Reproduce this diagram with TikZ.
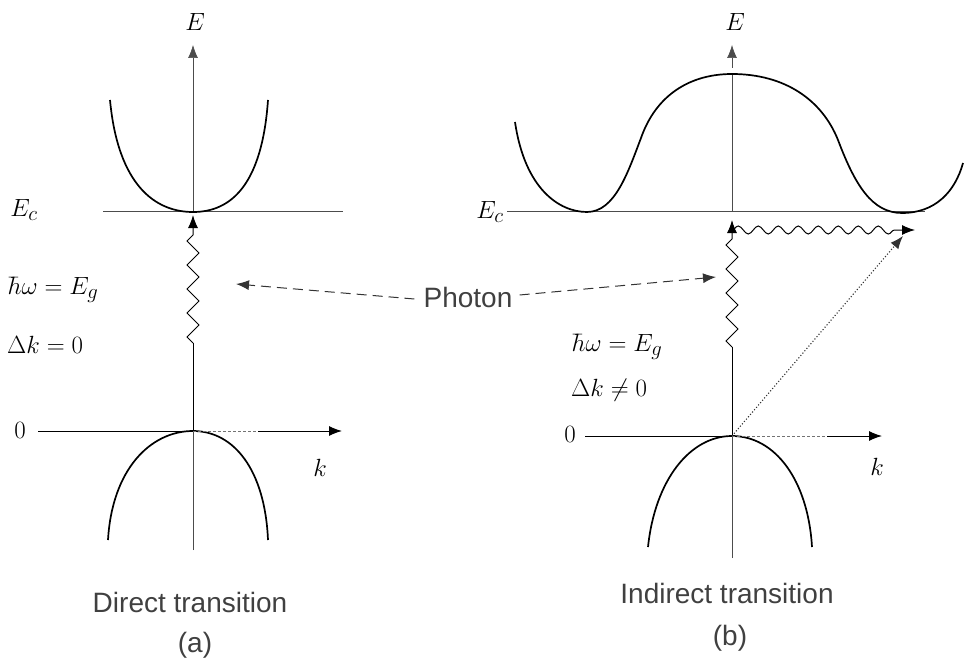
\documentclass[tikz,border=0pt]{standalone}
\usepackage{fontspec}
\setsansfont{Liberation Sans}
\usetikzlibrary{arrows.meta,decorations.pathmorphing}
\tikzset{
  band/.style={line width=1.7pt, black},
  axisline/.style={line width=0.7pt, black!70},
  faint/.style={line width=0.7pt, black!55, dash pattern=on 3pt off 2pt},
  tip/.style={-{Latex[length=13pt,width=10pt]}},
  zig/.style={line width=1pt, decorate, decoration={zigzag, amplitude=6pt, segment length=24pt, post length=16pt}},
  wave/.style={line width=1pt, decorate, decoration={snake, amplitude=4pt, segment length=20pt, post length=12pt}},
  photonarrow/.style={line width=1pt, black!80, dash pattern=on 10pt off 6pt, -{Latex[length=13pt,width=10pt]}},
  mlabel/.style={font=\fontsize{28}{32}\selectfont, inner sep=1pt},
  tlabel/.style={font=\sffamily\fontsize{28}{32}\selectfont, text=black!75, inner sep=1pt},
}
\begin{document}
\begin{tikzpicture}[x=1pt,y=-1pt]
\useasboundingbox (0,0) rectangle (965,660);

% ---------------- (a) direct ----------------
\coordinate (aTop) at (193,45);
\coordinate (aBot) at (193,550);
\coordinate (aCv) at (193,212);
\coordinate (aVv) at (193,431);
\coordinate (aZ) at (193,343);
\coordinate (aEcL) at (103,212);
\coordinate (aEcR) at (343,212);
\coordinate (aZeroL) at (38,431);
\coordinate (aKs) at (258,431);
\coordinate (aKe) at (342,431);

\draw[axisline] (aBot) -- (aVv);
\draw[axisline] (aCv) -- (193,60);
\draw[axisline,tip] (193,70) -- (aTop);
\draw[line width=1pt, black!70] (aEcL) -- (aEcR);
% conduction band
\draw[band] (110,100) .. controls (118,185) and (155,212) .. (aCv)
            .. controls (231,212) and (262,185) .. (268,100);
% valence band
\draw[band] (108,540) .. controls (112,470) and (150,431) .. (aVv)
            .. controls (234,431) and (265,470) .. (268,540);
% 0 line and k axis
\draw[line width=1pt] (aZeroL) -- (aVv);
\draw[faint] (aVv) -- (aKs);
\draw[line width=1pt, tip] (aKs) -- (aKe);
% transition
\draw[line width=1pt] (aVv) -- (aZ);
\draw[zig, tip] (aZ) -- (193,215);

\node[mlabel] (aE) at (195,22) {$E$};
\node[mlabel] (aEc) at (24,210) {$E_c$};
\node[mlabel, anchor=west] (aHw) at (6,290) {$\hbar\omega = E_g$};
\node[mlabel, anchor=west] (aDk) at (6,345) {$\Delta k = 0$};
\node[mlabel] (aZero) at (20,430) {$0$};
\node[mlabel] (ak) at (320,468) {$k$};
\node[tlabel] (aTitle) at (190,602) {Direct transition};
\node[tlabel] (aSub) at (195,645) {(a)};

% ---------------- photon ----------------
\node[tlabel] (photon) at (468,297) {Photon};
\coordinate (phA) at (236,284);
\coordinate (phB) at (716,277);
\draw[photonarrow] (photon.west) ++(-8,2) -- (phA);
\draw[photonarrow] (photon.east) ++(6,-2) -- (phB);

% ---------------- (b) indirect ----------------
\coordinate (bTop) at (732,45);
\coordinate (bBot) at (732,558);
\coordinate (bMax) at (732,74);
\coordinate (bVv) at (732,436);
\coordinate (bZ) at (732,347);
\coordinate (bEcL) at (507,212);
\coordinate (bEcR) at (925,212);
\coordinate (bZeroL) at (585,436);
\coordinate (bKs) at (827,436);
\coordinate (bKe) at (882,436);
\coordinate (bMin) at (902,213);
\coordinate (bW) at (732,230);
\coordinate (bWe) at (915,230);
\coordinate (bDe) at (903,236);

\draw[axisline] (bBot) -- (bVv);
\draw[axisline] (732,212) -- (bMax);
\draw[axisline,tip] (732,68) -- (bTop);
\draw[line width=1pt, black!70] (bEcL) -- (bEcR);
% conduction band
\draw[band] (515,122) .. controls (525,190) and (560,212) .. (587,212)
            .. controls (615,212) and (628,172) .. (641,138)
            .. controls (656,95) and (690,74) .. (bMax)
            .. controls (785,74) and (822,100) .. (838,140)
            .. controls (855,185) and (872,213) .. (bMin)
            .. controls (935,213) and (955,192) .. (963,163);
% valence band
\draw[band] (648,547) .. controls (655,480) and (690,436) .. (bVv)
            .. controls (775,436) and (808,480) .. (812,547);
% 0 line and k axis
\draw[line width=1pt] (bZeroL) -- (bVv);
\draw[faint] (bVv) -- (bKs);
\draw[line width=1pt, tip] (bKs) -- (bKe);
% transitions
\draw[line width=1pt] (bVv) -- (bZ);
\draw[zig, tip] (bZ) -- (732,220);
\draw[wave, tip] (bW) -- (bWe);
\draw[line width=1.1pt, black!80, dotted, -{Latex[length=13pt,width=10pt]}] (bVv) -- (bDe);

\node[mlabel] (bE) at (735,22) {$E$};
\node[mlabel] (bEc) at (490,212) {$E_c$};
\node[mlabel, anchor=west] (bHw) at (570,347) {$\hbar\omega = E_g$};
\node[mlabel, anchor=west] (bDk) at (570,390) {$\Delta k \neq 0$};
\node[mlabel] (bZero) at (570,434) {$0$};
\node[mlabel] (bk) at (877,467) {$k$};
\node[tlabel] (bTitle) at (727,593) {Indirect transition};
\node[tlabel] (bSub) at (730,638) {(b)};
\end{tikzpicture}
\end{document}
